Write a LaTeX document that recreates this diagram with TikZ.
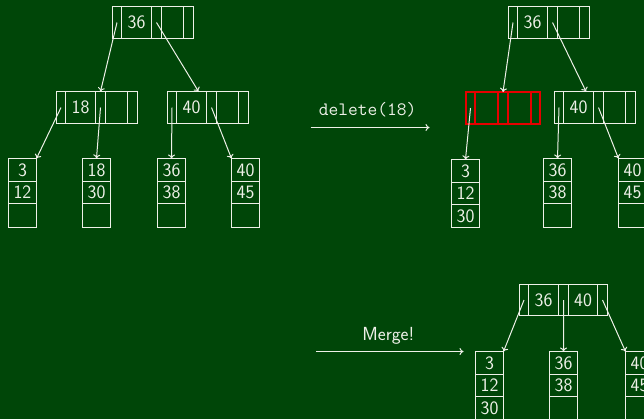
\documentclass[tikz,border=0pt]{standalone}
\usepackage{fontspec}
\usetikzlibrary{arrows.meta}
\definecolor{bg}{RGB}{0,70,8}
\definecolor{fg}{RGB}{238,240,232}
\definecolor{redline}{RGB}{230,0,0}
\newcommand\keyfont{\sffamily\fontsize{19}{19}\selectfont}
\tikzset{
  cell/.style={draw=fg, line width=1bp, inner sep=0pt, outer sep=0pt, minimum height=32bp, text=fg, font=\keyfont},
  pa/.style={cell, minimum width=9bp},
  pb/.style={cell, minimum width=10bp},
  kc/.style={cell, minimum width=30bp},
  ec/.style={cell, minimum width=22bp},
  redbox/.style={inner sep=0pt, outer sep=0pt, minimum height=32bp, minimum width=74bp},
  redstroke/.style={draw=redline, line width=1.6bp},
  lc/.style={draw=fg, line width=1bp, inner sep=0pt, outer sep=0pt, minimum width=28bp, minimum height=23bp, text=fg, font=\keyfont},
  lcb/.style={lc, minimum height=22bp},
  lcc/.style={lc, minimum height=24bp},
  link/.style={draw=fg, line width=1bp, -{To[length=4bp,width=7bp]}},
  lbl/.style={text=fg, inner sep=0pt, anchor=base},
}
\begin{document}
\begin{tikzpicture}[x=1bp,y=-1bp]
\useasboundingbox (0,0) rectangle (644,419);
\fill[bg] (0,0) rectangle (644,419);
\clip (0,0) rectangle (644,419);

% ---------- top-left tree ----------
\node[pa, anchor=north west] (Ap1) at (112.5,6.5) {};
\node[kc, anchor=west] (Ak1) at (Ap1.east) {36};
\node[pb, anchor=west] (Ap2) at (Ak1.east) {};
\node[ec, anchor=west] (Ak2) at (Ap2.east) {};
\node[pb, anchor=west] (Ap3) at (Ak2.east) {};

\node[pa, anchor=north west] (Bp1) at (56.5,91.5) {};
\node[kc, anchor=west] (Bk1) at (Bp1.east) {18};
\node[pb, anchor=west] (Bp2) at (Bk1.east) {};
\node[ec, anchor=west] (Bk2) at (Bp2.east) {};
\node[pb, anchor=west] (Bp3) at (Bk2.east) {};

\node[pa, anchor=north west] (Cp1) at (167.5,91.5) {};
\node[kc, anchor=west] (Ck1) at (Cp1.east) {40};
\node[pb, anchor=west] (Cp2) at (Ck1.east) {};
\node[ec, anchor=west] (Ck2) at (Cp2.east) {};
\node[pb, anchor=west] (Cp3) at (Ck2.east) {};

\node[lc, anchor=north west] (L1a) at (8.5,158.5) {3};
\node[lcb, anchor=north] (L1b) at (L1a.south) {12};
\node[lcc, anchor=north] (L1c) at (L1b.south) {};
\node[lc, anchor=north west] (L2a) at (82.5,158.5) {18};
\node[lcb, anchor=north] (L2b) at (L2a.south) {30};
\node[lcc, anchor=north] (L2c) at (L2b.south) {};
\node[lc, anchor=north west] (L3a) at (157.5,158.5) {36};
\node[lcb, anchor=north] (L3b) at (L3a.south) {38};
\node[lcc, anchor=north] (L3c) at (L3b.south) {};
\node[lc, anchor=north west] (L4a) at (231.5,158.5) {40};
\node[lcb, anchor=north] (L4b) at (L4a.south) {45};
\node[lcc, anchor=north] (L4c) at (L4b.south) {};

\draw[link] (Ap1.center) -- (Bp2.north);
\draw[link] (Ap2.center) -- ([xshift=7bp]Ck1.north);
\draw[link] (Bp1.center) -- (L1a.north east);
\draw[link] (Bp2.center) -- (L2a.north);
\draw[link] (Cp1.center) -- (L3a.north);
\draw[link] (Cp2.center) -- (L4a.north west);

% ---------- delete arrow ----------
\coordinate (d1) at (310.5,127.5);
\coordinate (d2) at (429.5,127.5);
\draw[link] (d1) -- (d2);
\node[lbl, font=\ttfamily\fontsize{19}{19}\selectfont] (dl) at (367.5,115.7) {delete(18)};

% ---------- top-right tree ----------
\node[pa, anchor=north west] (Dp1) at (508.5,6.5) {};
\node[kc, anchor=west] (Dk1) at (Dp1.east) {36};
\node[pb, anchor=west] (Dp2) at (Dk1.east) {};
\node[ec, anchor=west] (Dk2) at (Dp2.east) {};
\node[pb, anchor=west] (Dp3) at (Dk2.east) {};

% emptied node (red)
\node[redbox, anchor=north west] (R) at (466,92) {};
\coordinate (Rp1) at ([xshift=4.5bp]R.west);
\coordinate (Rp2) at ([xshift=37bp]R.north west);
\draw[redstroke] (R.north west) rectangle (R.south east);
\draw[redstroke] ([xshift=9bp]R.north west) -- ([xshift=9bp]R.south west);
\draw[redstroke] ([xshift=32bp]R.north west) -- ([xshift=32bp]R.south west);
\draw[redstroke] ([xshift=42bp]R.north west) -- ([xshift=42bp]R.south west);
\draw[redstroke] ([xshift=65bp]R.north west) -- ([xshift=65bp]R.south west);

\node[pa, anchor=north west] (Ep1) at (554.5,91.5) {};
\node[kc, anchor=west] (Ek1) at (Ep1.east) {40};
\node[pb, anchor=west] (Ep2) at (Ek1.east) {};
\node[ec, anchor=west] (Ek2) at (Ep2.east) {};
\node[pb, anchor=west] (Ep3) at (Ek2.east) {};

\node[lc, anchor=north west] (M1a) at (451.5,159.5) {3};
\node[lcb, anchor=north] (M1b) at (M1a.south) {12};
\node[lc, anchor=north] (M1c) at (M1b.south) {30};
\node[lc, anchor=north west] (M2a) at (543.5,158.5) {36};
\node[lcb, anchor=north] (M2b) at (M2a.south) {38};
\node[lcc, anchor=north] (M2c) at (M2b.south) {};
\node[lc, anchor=north west] (M3a) at (618.5,158.5) {40};
\node[lcb, anchor=north] (M3b) at (M3a.south) {45};
\node[lcc, anchor=north] (M3c) at (M3b.south) {};

\draw[link] (Dp1.center) -- (Rp2);
\draw[link] (Dp2.center) -- ([xshift=7.5bp]Ek1.north);
\draw[link] (Rp1) -- (M1a.north);
\draw[link] (Ep1.center) -- (M2a.north);
\draw[link] (Ep2.center) -- (M3a.north west);

% ---------- merge arrow ----------
\coordinate (m1) at (316,351.5);
\coordinate (m2) at (463.5,351.5);
\draw[link] (m1) -- (m2);
\node[lbl, font=\keyfont] (ml) at (388.3,340.7) {Merge!};

% ---------- bottom tree ----------
\node[pa, anchor=north west, minimum height=31bp] (Fp1) at (519.5,284.5) {};
\node[kc, anchor=west, minimum height=31bp] (Fk1) at (Fp1.east) {36};
\node[pb, anchor=west, minimum height=31bp] (Fp2) at (Fk1.east) {};
\node[kc, anchor=west, minimum height=31bp, minimum width=29bp] (Fk2) at (Fp2.east) {40};
\node[pb, anchor=west, minimum height=31bp] (Fp3) at (Fk2.east) {};

\node[lc, anchor=north west] (N1a) at (475.5,351.5) {3};
\node[lcb, anchor=north] (N1b) at (N1a.south) {12};
\node[lc, anchor=north] (N1c) at (N1b.south) {30};
\node[lc, anchor=north west] (N2a) at (549.5,351.5) {36};
\node[lcb, anchor=north] (N2b) at (N2a.south) {38};
\node[lcc, anchor=north] (N2c) at (N2b.south) {};
\node[lc, anchor=north west] (N3a) at (625.5,351.5) {40};
\node[lcb, anchor=north] (N3b) at (N3a.south) {45};
\node[lcc, anchor=north] (N3c) at (N3b.south) {};

\draw[link] (Fp1.center) -- (N1a.north east);
\draw[link] (Fp2.center) -- (N2a.north);
\draw[link] (Fp3.center) -- (N3a.north west);
\end{tikzpicture}
\end{document}
